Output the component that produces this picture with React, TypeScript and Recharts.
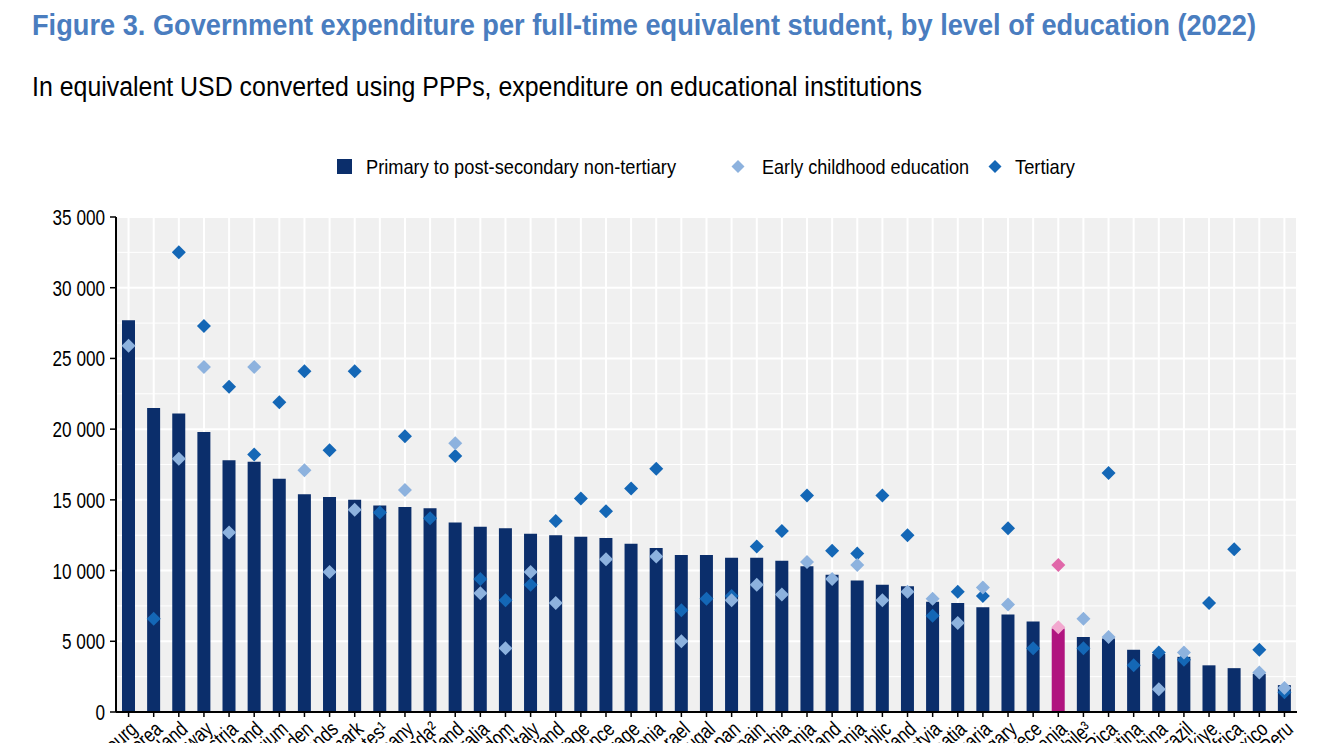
import React from 'react';
import {
  ComposedChart,
  Bar,
  Line,
  XAxis,
  YAxis,
  CartesianGrid,
  Cell,
} from 'recharts';

const countries = [
  'Luxembourg', 'Korea', 'Switzerland', 'Norway', 'Austria', 'Iceland', 'Belgium',
  'Sweden', 'Netherlands', 'Denmark', 'United States¹', 'Germany', 'Canada²', 'Finland',
  'Australia', 'United Kingdom', 'Italy', 'New Zealand', 'OECD average', 'France',
  'EU25 average', 'Slovenia', 'Israel', 'Portugal', 'Japan', 'Spain', 'Czechia',
  'Estonia', 'Ireland', 'Lithuania', 'Slovak Republic', 'Poland', 'Latvia', 'Croatia',
  'Bulgaria', 'Hungary', 'Greece', 'Romania', 'Chile³', 'Costa Rica', 'Argentina',
  'China', 'Brazil', 'Türkiye', 'South Africa', 'Mexico', 'Peru',
];

// Primary to post-secondary non-tertiary
const primaryValues = [
  27700, 21500, 21100, 19800, 17800, 17700, 16500, 15400, 15200, 15000, 14600, 14500,
  14400, 13400, 13100, 13000, 12600, 12500, 12400, 12300, 11900, 11600, 11100, 11100,
  10900, 10900, 10700, 10300, 9700, 9300, 9000, 8900, 7800, 7700, 7400, 6900, 6400,
  5900, 5300, 5200, 4400, 4100, 3900, 3300, 3100, 2700, 1900,
];

const earlyChildhoodValues = [
  25900, null, 17900, 24400, 12700, 24400, null, 17100, 9900, 14300, null, 15700,
  null, 19000, 8400, 4500, 9900, 7700, null, 10800, null, 11000, 5000, null,
  7900, 9000, 8300, 10600, 9400, 10400, 7900, 8500, 8000, 6300, 8800, 7600, null,
  6000, 6600, 5300, null, 1600, 4200, null, null, 2800, 1700,
];

const tertiaryValues = [
  null, 6600, 32500, 27300, 23000, 18200, 21900, 24100, 18500, 24100, 14100, 19500,
  13700, 18100, 9400, 7900, 9000, 13500, 15100, 14200, 15800, 17200, 7200, 8000,
  8200, 11700, 12800, 15300, 11400, 11200, 15300, 12500, 6800, 8500, 8200, 13000, 4500,
  10400, 4500, 16900, 3300, 4200, 3700, 7700, 11500, 4400, 1400,
];

const yTicks = [0, 5000, 10000, 15000, 20000, 25000, 30000, 35000];
const minorLines = [2500, 7500, 12500, 17500, 22500, 27500, 32500];

const highlight = 'Romania';

const NAVY = '#0b2e6b';
const MAGENTA = '#b0147f';
const TERTIARY = '#1467b6';
const TERTIARY_HL = '#e067a9';
const ECE = '#8db2de';
const ECE_HL = '#f2a8cf';

// no narrow face installed, so Liberation Sans gets squeezed horizontally
const FONT = '"Liberation Sans", Arial, sans-serif';
const NARROW = 0.8;

const data = countries.map((name, i) => ({
  name,
  primary: primaryValues[i],
  ece: earlyChildhoodValues[i],
  tertiary: tertiaryValues[i],
}));

const fmt = (v: number) =>
  v >= 1000 ? `${Math.floor(v / 1000)} ${String(v % 1000).padStart(3, '0')}` : String(v);

const diamondPath = (cx: number, cy: number, r: number) =>
  `M${cx},${cy - r}L${cx + r},${cy}L${cx},${cy + r}L${cx - r},${cy}Z`;

function makeDot(color: string, hlColor: string) {
  return (props: any) => {
    const { cx, cy, payload, index } = props;
    if (cy == null || isNaN(cy)) return <g key={`d-${index}`} />;
    const fill = payload.name === highlight ? hlColor : color;
    return <path key={`d-${index}`} d={diamondPath(cx, cy, 7)} fill={fill} />;
  };
}

const XTick = (props: any) => {
  const { x, y, payload } = props;
  const ax = x + 10;
  const ay = y + 12;
  return (
    <text
      transform={`translate(${ax} ${ay}) rotate(-42) scale(${NARROW} 1)`}
      textAnchor="end"
      fontSize={21}
      fontFamily={FONT}
      fill="#000"
    >
      {payload.value}
    </text>
  );
};

const YTick = (props: any) => {
  const { x, y, payload } = props;
  return (
    <text
      transform={`translate(${x} ${y + 8}) scale(0.78 1)`}
      textAnchor="end"
      fontSize={22}
      fontFamily={FONT}
      fill="#000"
    >
      {fmt(payload.value)}
    </text>
  );
};

export default function App() {
  return (
    <div
      style={{
        position: 'absolute',
        left: 0,
        top: 0,
        width: 1320,
        height: 743,
        overflow: 'hidden',
        background: '#fff',
      }}
    >
      <svg width={1320} height={200} style={{ position: 'absolute', left: 0, top: 0 }}>
        <text
          x={32}
          y={35}
          fontSize={29}
          fontWeight={700}
          fontFamily={FONT}
          fill="#4a7dbf"
          textLength={1224}
          lengthAdjust="spacingAndGlyphs"
        >
          Figure 3. Government expenditure per full-time equivalent student, by level of education (2022)
        </text>
        <text
          x={32}
          y={96}
          fontSize={27}
          fontFamily={FONT}
          fill="#000"
          textLength={890}
          lengthAdjust="spacingAndGlyphs"
        >
          In equivalent USD converted using PPPs, expenditure on educational institutions
        </text>

        <rect x={337} y={159} width={15} height={15} fill={NAVY} />
        <text x={366} y={174} fontSize={21} fontFamily={FONT} textLength={310} lengthAdjust="spacingAndGlyphs">
          Primary to post-secondary non-tertiary
        </text>
        <path d={diamondPath(738, 166.5, 6.5)} fill={ECE} />
        <text x={762} y={174} fontSize={21} fontFamily={FONT} textLength={207} lengthAdjust="spacingAndGlyphs">
          Early childhood education
        </text>
        <path d={diamondPath(995, 166.5, 6.5)} fill={TERTIARY} />
        <text x={1015} y={174} fontSize={21} fontFamily={FONT} textLength={60} lengthAdjust="spacingAndGlyphs">
          Tertiary
        </text>
      </svg>

      <div style={{ position: 'absolute', left: 0, top: 0 }}>
        <ComposedChart
          width={1320}
          height={800}
          data={data}
          margin={{ top: 217, right: 23, bottom: 0, left: 0 }}
          barCategoryGap={0}
        >
          <CartesianGrid
            fill="#f0f0f0"
            stroke="#ffffff"
            strokeWidth={1}
            vertical={false}
            horizontalValues={minorLines}
          />
          <CartesianGrid stroke="#ffffff" strokeWidth={2} horizontalValues={yTicks} />
          <XAxis
            dataKey="name"
            interval={0}
            height={88}
            tick={<XTick />}
            tickSize={5}
            tickLine={{ stroke: '#000', strokeWidth: 1.5 }}
            axisLine={{ stroke: '#000', strokeWidth: 2 }}
          />
          <YAxis
            width={116}
            domain={[0, 35000]}
            ticks={yTicks}
            tickSize={6}
            tickMargin={5}
            tick={<YTick />}
            tickLine={{ stroke: '#000', strokeWidth: 1.5 }}
            axisLine={{ stroke: '#000', strokeWidth: 2 }}
          />
          <Bar dataKey="primary" barSize={13} isAnimationActive={false}>
            {data.map((d, i) => (
              <Cell key={`c-${i}`} fill={d.name === highlight ? MAGENTA : NAVY} />
            ))}
          </Bar>
          <Line
            dataKey="tertiary"
            stroke="none"
            dot={makeDot(TERTIARY, TERTIARY_HL)}
            activeDot={false}
            isAnimationActive={false}
          />
          <Line
            dataKey="ece"
            stroke="none"
            dot={makeDot(ECE, ECE_HL)}
            activeDot={false}
            isAnimationActive={false}
          />
        </ComposedChart>
      </div>
    </div>
  );
}
